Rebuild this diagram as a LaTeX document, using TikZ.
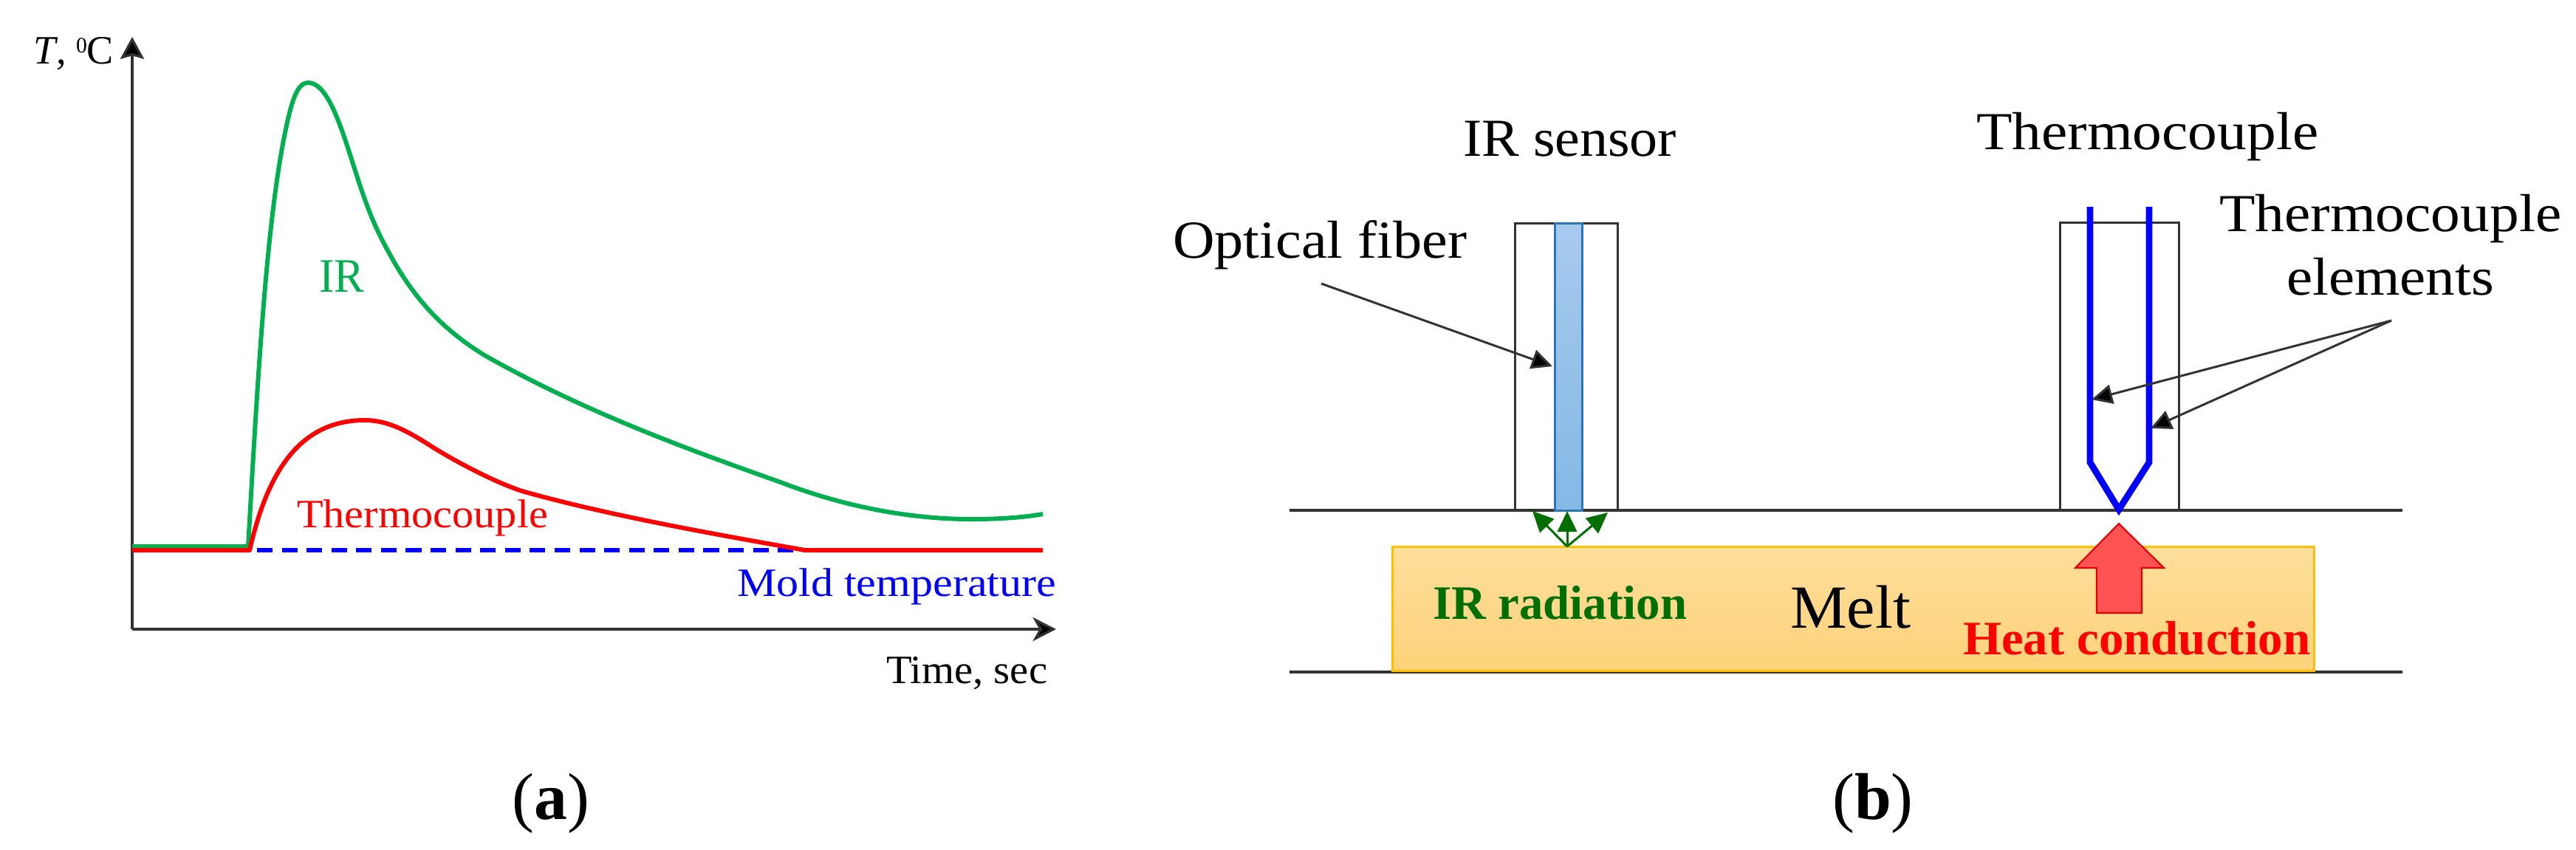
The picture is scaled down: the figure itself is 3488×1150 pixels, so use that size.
\documentclass[tikz,border=0pt]{standalone}
\usepackage{graphicx}
\usepackage{fontspec}
\setmainfont{Liberation Serif}
\usetikzlibrary{arrows.meta,calc}
\definecolor{axisgray}{HTML}{333333}
\definecolor{irgreen}{HTML}{00B050}
\definecolor{darkgreen}{HTML}{006F00}
\definecolor{fiberedge}{HTML}{2E75B6}
\definecolor{meltedge}{HTML}{FFC000}
\definecolor{melttop}{HTML}{FFDF9B}
\definecolor{meltbot}{HTML}{FDD27A}
\definecolor{fibtop}{HTML}{A6CAEC}
\definecolor{fibbot}{HTML}{85B9E6}
\tikzset{
  lab/.style={anchor=base west,inner sep=0pt,outer sep=0pt},
  labc/.style={anchor=base,inner sep=0pt,outer sep=0pt},
  fsmall/.style={font=\fontsize{15.5}{18}\selectfont},
  fbig/.style={font=\fontsize{20.6}{24}\selectfont},
  fbold/.style={font=\fontsize{18.5}{22}\selectfont\bfseries},
  axisline/.style={draw=axisgray,line width=0.9pt},
  curve/.style={line width=1.7pt,line join=round},
  sensorbox/.style={draw=axisgray,line width=0.85pt,anchor=north west,inner sep=0pt,outer sep=0pt},
  pointer/.style={draw=axisgray,line width=0.85pt,-{Triangle[length=8pt,width=7.5pt,fill=black]}},
  ray/.style={draw=darkgreen,line width=0.85pt,-{Triangle[length=8pt,width=7.5pt,fill=darkgreen]}},
  element/.style={draw=blue,line width=2.5pt,line join=miter},
}
\newcommand{\fitw}[2]{\resizebox{#1cm}{\height}{#2}}
\begin{document}
\begin{tikzpicture}[x=0.01cm,y=-0.01cm]
\useasboundingbox (0,0) rectangle (3488,1150);
\fill[white] (0,0) rectangle (3488,1150);
% --- panel (a)
\coordinate (origin) at (179,852);
\coordinate (ytip) at (179,50);
\coordinate (xtip) at (1430,852);
\draw[axisline,-{Stealth[length=8.5pt,width=9.2pt,inset=1.3pt,fill=black]}] (origin) -- (ytip);
\draw[axisline,-{Stealth[length=9pt,width=9.2pt,inset=2.6pt,fill=black]}] (origin) -- (xtip);
\draw[irgreen,curve] (179,740) -- (336,740)
  .. controls (350,490) and (362,290) .. (388,170)
  .. controls (397,128) and (405,112) .. (417,112)
  .. controls (434,112) and (447,135) .. (459,166)
  .. controls (478,216) and (489,266) .. (513,316)
  .. controls (548,387) and (586,438) .. (656,481)
  .. controls (790,557) and (930,608) .. (1057,653)
  .. controls (1140,685) and (1230,703) .. (1315,703)
  .. controls (1350,703) and (1385,701) .. (1412,696);
\draw[blue,line width=1.45pt,dash pattern=on 6pt off 3.55pt] (180,745) -- (1090,745);
\draw[red,curve] (179,745) -- (338,745)
  .. controls (362,640) and (405,569) .. (494,569)
  .. controls (527,569) and (555,586) .. (582,603)
  .. controls (610,621) and (667,652) .. (707,665)
  .. controls (820,697) and (960,722) .. (1090,745)
  -- (1412,745);
\node[lab,fsmall] (tlabel) at (46,86) {\fitw{1.08}{\textit{T}, \raisebox{4pt}{\fontsize{8.5}{9}\selectfont 0}C}};
\node[lab,text=irgreen,font=\fontsize{18.5}{22}\selectfont] (irlabel) at (432,395) {\fitw{0.61}{IR}};
\node[lab,fsmall,text=red] (tclabel) at (402,714) {\fitw{3.40}{Thermocouple}};
\node[lab,fsmall,text=blue] (moldlabel) at (998,807) {\fitw{4.32}{Mold temperature}};
\node[lab,fsmall] (timelabel) at (1200,925) {\fitw{2.18}{Time, sec}};
\node[labc,font=\fontsize{25.5}{30}\selectfont] (capa) at (746,1109) {(\textbf{a})};
% --- panel (b)
\draw[axisline] (1746,691) coordinate (topl) -- (3253,691) coordinate (topr);
\draw[axisline] (1746,910) coordinate (botl) -- (3253,910) coordinate (botr);
\node[draw=meltedge,line width=0.85pt,anchor=north west,inner sep=0pt,outer sep=0pt,
  minimum width=12.48cm,minimum height=1.68cm,top color=melttop,bottom color=meltbot] (melt) at (1885,740) {};
\node[sensorbox,minimum width=1.385cm,minimum height=3.89cm] (irbox) at (2051.5,302) {};
\node[draw=fiberedge,line width=0.85pt,anchor=north west,inner sep=0pt,outer sep=0pt,
  minimum width=0.37cm,minimum height=3.89cm,top color=fibtop,bottom color=fibbot] (fiber) at (2105,302) {};
\node[sensorbox,minimum width=1.61cm,minimum height=3.90cm] (tcbox) at (2789,301) {};
\draw[element] (2830,280) -- (2830,626) -- (2869,690) -- (2910,626) -- (2910,280);
\coordinate (fibtail) at (1789,384);
\coordinate (fibhead) at (2102,496);
\draw[pointer] (fibtail) -- (fibhead);
\coordinate (eltail) at (3238,434);
\coordinate (elheada) at (2832,541);
\coordinate (elheadb) at (2912,580);
\draw[pointer] (eltail) -- (elheada);
\draw[pointer] (eltail) -- (elheadb);
\coordinate (rayfoot) at (2122,740);
\coordinate (raya) at (2075,692);
\coordinate (rayb) at (2122,692);
\coordinate (rayc) at (2177,694);
\draw[ray] (rayfoot) -- (raya);
\draw[ray] (rayfoot) -- (rayb);
\draw[ray] (rayfoot) -- (rayc);
\filldraw[draw=red!90!black,fill=red!68!white,line width=0.6pt,line join=miter]
  (2869,709) -- (2930,769) -- (2900,769) -- (2900,830) -- (2839,830) -- (2839,769) -- (2810,769) -- cycle;
\node[lab,fbig] (irsensor) at (1981,211) {\fitw{2.89}{IR sensor}};
\node[lab,fbig] (optical) at (1588,349) {\fitw{3.98}{Optical fiber}};
\node[lab,fbig] (tctop) at (2676,202) {\fitw{4.63}{Thermocouple}};
\node[lab,fbig] (tcel) at (3005,313) {\fitw{4.63}{Thermocouple}};
\node[lab,fbig] (elem) at (3096,399) {\fitw{2.81}{elements}};
\node[lab,font=\fontsize{23.6}{28}\selectfont] (meltlabel) at (2424,850) {\fitw{1.63}{Melt}};
\node[lab,fbold,text=darkgreen] (irrad) at (1940,838) {\fitw{3.44}{IR radiation}};
\node[lab,fbold,text=red] (heat) at (2658,886) {\fitw{4.70}{Heat conduction}};
\node[labc,font=\fontsize{25.5}{30}\selectfont] (capb) at (2536,1109) {(\textbf{b})};
\end{tikzpicture}
\end{document}
